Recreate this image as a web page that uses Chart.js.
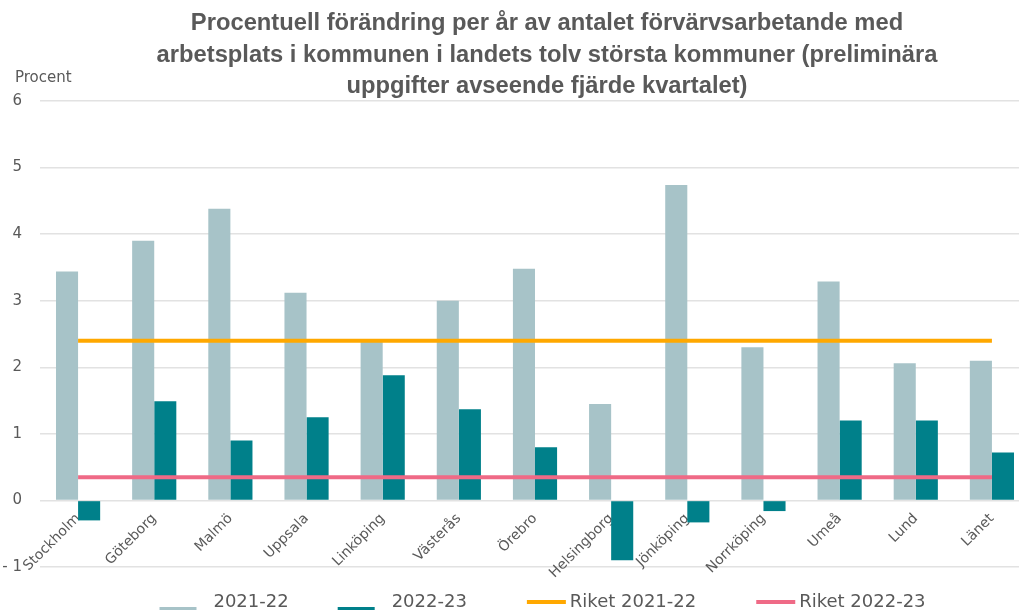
<!DOCTYPE html>
<html><head><meta charset="utf-8">
<script src="https://cdn.jsdelivr.net/npm/chart.js@4"></script>
<style>
html,body{margin:0;padding:0;background:#fff;overflow:hidden;}
#wrap{position:absolute;left:0;top:0;width:1030px;height:621px;}
</style></head><body>
<div id="wrap"><canvas id="c"></canvas></div>
<script>
const categories = ['Stockholm','Göteborg','Malmö','Uppsala','Linköping','Västerås','Örebro','Helsingborg','Jönköping','Norrköping','Umeå','Lund','Länet'];
const values2122 = [3.44, 3.9, 4.38, 3.12, 2.39, 3.0, 3.48, 1.45, 4.74, 2.3, 3.29, 2.06, 2.1];
const values2223 = [-0.3, 1.49, 0.9, 1.25, 1.88, 1.37, 0.8, -0.9, -0.33, -0.16, 1.2, 1.2, 0.72];
const riket2122 = 2.4;
const riket2223 = 0.35;
const seriesNames = ['2021-22', '2022-23', 'Riket 2021-22', 'Riket 2022-23'];
const titleLines = ['Procentuell förändring per år av antalet förvärvsarbetande med',
  'arbetsplats i kommunen i landets tolv största kommuner (preliminära',
  'uppgifter avseende fjärde kvartalet)'];
const yTicks = [-1, 0, 1, 2, 3, 4, 5, 6];
const yAxisLabel = 'Procent';

const COL_LIGHT = '#A7C3C8', COL_TEAL = '#00808A', COL_ORANGE = '#FFA800', COL_PINK = '#EF6A86';
const TEXT = '#595959';

function legendImg(kind, color) {
  const c = document.createElement('canvas');
  c.width = 100; c.height = 30;
  const g = c.getContext('2d');
  g.fillStyle = color; g.strokeStyle = color;
  if (kind === 'rect') { g.fillRect(39, 20, 37, 10); }
  else { g.lineWidth = 4; g.beginPath(); g.moveTo(50, 15); g.lineTo(89, 15); g.stroke(); }
  return c;
}
const legendImgs = [legendImg('rect', COL_LIGHT), legendImg('rect', COL_TEAL), legendImg('line', COL_ORANGE), legendImg('line', COL_PINK)];

const overlay = {
  id: 'overlay',
  afterLayout(chart) {
    if (chart.legend) { chart.legend.left -= 4; chart.legend.right -= 4; }
  },
  afterDraw(chart) {
    const ctx = chart.ctx;
    ctx.save();
    ctx.fillStyle = TEXT;
    ctx.textAlign = 'center';
    ctx.textBaseline = 'middle';
    let size = 20;
    ctx.font = 'bold ' + size + 'px "Liberation Sans"';
    const w = ctx.measureText(titleLines[1]).width;
    size = size * 781 / w;
    ctx.font = 'bold ' + size.toFixed(2) + 'px "Liberation Sans"';
    const ys = [23, 55, 86];
    titleLines.forEach((t, i) => ctx.fillText(t, 547, ys[i]));
    ctx.textAlign = 'left';
    ctx.font = '15px "DejaVu Sans"';
    ctx.fillText(yAxisLabel, 15, 78);
    ctx.restore();
  }
};

new Chart(document.getElementById('c'), {
  type: 'bar',
  data: {
    labels: categories,
    datasets: [
      { label: seriesNames[0], data: values2122, backgroundColor: COL_LIGHT, order: 0 },
      { label: seriesNames[1], data: values2223, backgroundColor: COL_TEAL, order: 0 },
      { type: 'line', label: seriesNames[2], data: categories.map(() => riket2122), borderColor: COL_ORANGE, backgroundColor: COL_ORANGE, borderWidth: 4, pointRadius: 0, order: -1 },
      { type: 'line', label: seriesNames[3], data: categories.map(() => riket2223), borderColor: COL_PINK, backgroundColor: COL_PINK, borderWidth: 4, pointRadius: 0, order: -1 }
    ]
  },
  options: {
    responsive: true,
    maintainAspectRatio: false,
    animation: false,
    layout: { padding: { top: 101, left: 0, right: 0, bottom: 0 } },
    datasets: { bar: { categoryPercentage: 0.58, barPercentage: 1 } },
    scales: {
      x: {
        position: { y: 0 },
        grid: { display: false },
        border: { display: false },
        ticks: { minRotation: 45, maxRotation: 45, autoSkip: false, padding: 2, color: TEXT, font: { family: 'DejaVu Sans', size: 14 } },
        afterFit: s => { s.height = 0; }
      },
      y: {
        min: -1, max: 6,
        afterBuildTicks: s => { s.ticks = yTicks.map(v => ({ value: v })); },
        ticks: { padding: 18, color: TEXT, font: { family: 'DejaVu Sans', size: 15 }, callback: v => v < 0 ? '- ' + Math.abs(v) : String(v) },
        grid: { color: '#E2E2E2', lineWidth: 1.5, drawTicks: false },
        border: { display: false },
        afterFit: s => { s.width = 40; }
      }
    },
    plugins: {
      title: { display: false },
      tooltip: { enabled: false },
      legend: {
        position: 'bottom',
        fullSize: false,
        labels: {
          usePointStyle: true, pointStyleWidth: 68, boxHeight: 12, padding: 26,
          color: TEXT, font: { family: 'DejaVu Sans', size: 18 },
          generateLabels: chart => chart.data.datasets.map((ds, i) => ({
            text: ds.label, pointStyle: legendImgs[i], fillStyle: ds.backgroundColor,
            strokeStyle: ds.borderColor || ds.backgroundColor, lineWidth: 0, hidden: false, datasetIndex: i, fontColor: TEXT
          }))
        }
      }
    }
  },
  plugins: [overlay]
});
</script>
</body></html>
